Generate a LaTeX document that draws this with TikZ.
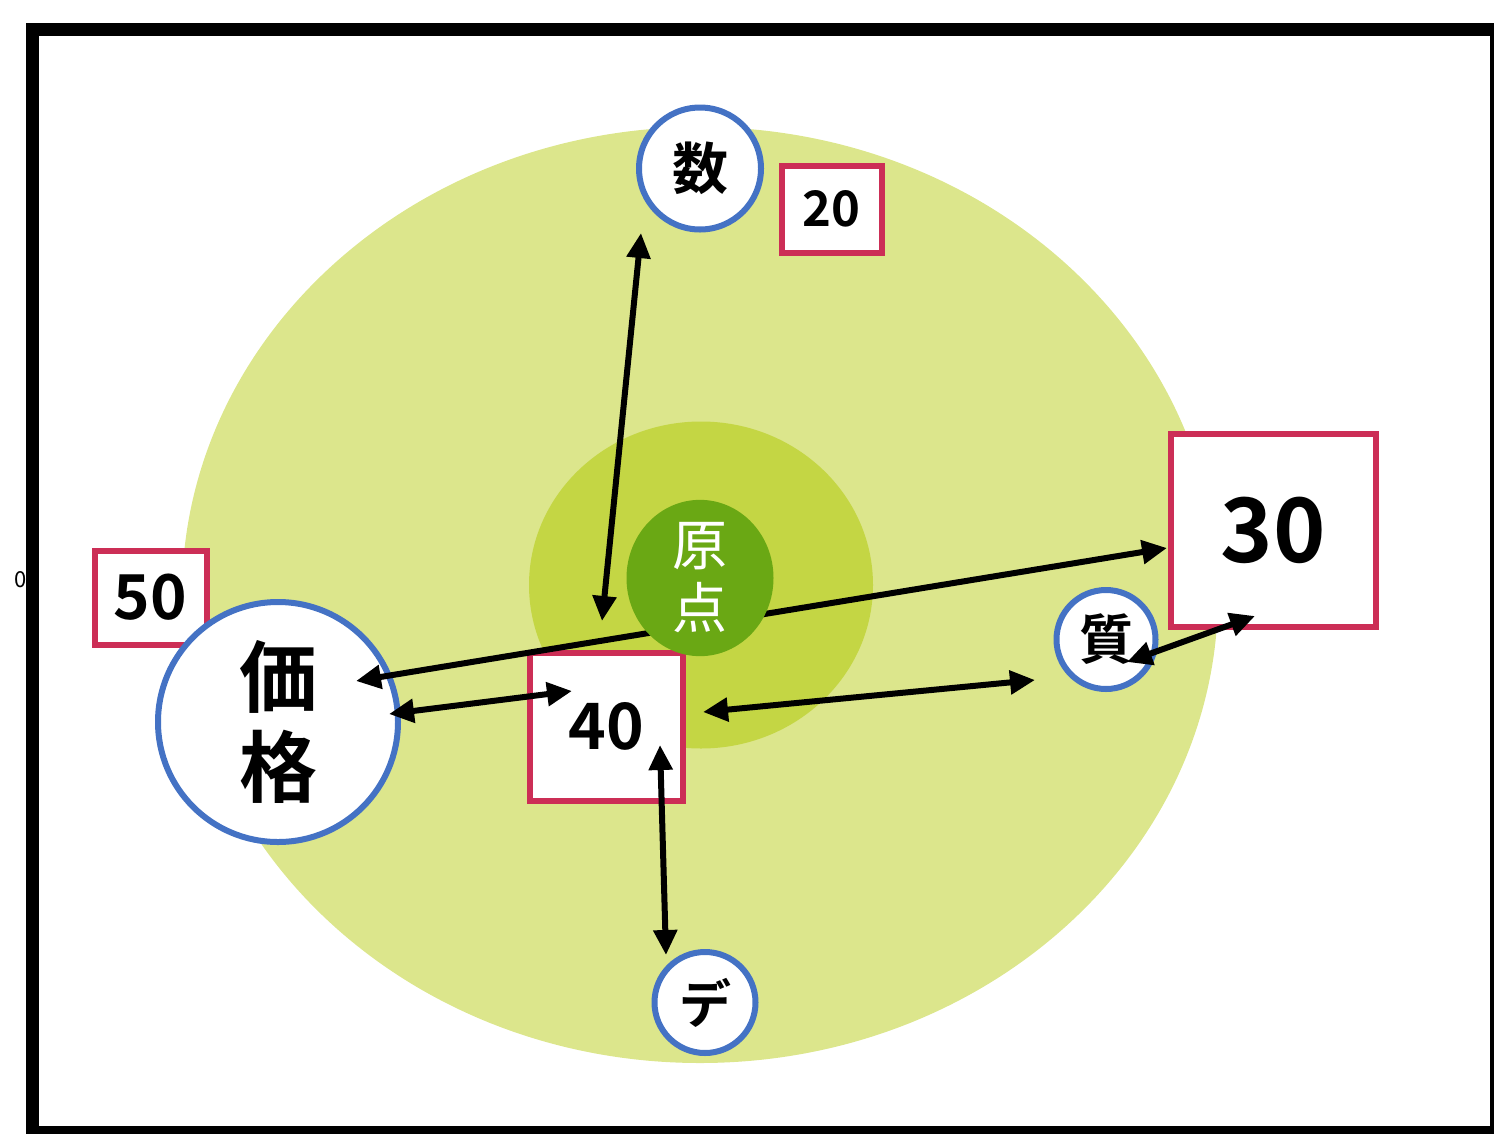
\documentclass[tikz,border=0pt]{standalone}
\usepackage{fontspec}
\setmainfont{Noto Sans CJK JP}[BoldFont={Noto Sans CJK JP Bold}]
\usepackage{tikz}
\usetikzlibrary{shapes.geometric, arrows.meta, positioning}
\definecolor{zonepale}{RGB}{220,230,140}
\definecolor{zonemid}{RGB}{196,214,68}
\definecolor{coregreen}{RGB}{106,168,20}
\definecolor{topicblue}{RGB}{68,114,196}
\definecolor{scorered}{RGB}{204,46,86}
\tikzstyle{zone} = [ellipse, inner sep=0pt]
\tikzstyle{topic} = [circle, draw=topicblue, line width=6pt, fill=white, inner sep=0pt, align=center]
\tikzstyle{score} = [rectangle, draw=scorered, line width=6pt, fill=white, inner sep=0pt]
\tikzstyle{arrow} = [line width=6pt, {Triangle[length=25pt,width=23pt]}-{Triangle[length=25pt,width=23pt]}]

\begin{document}
\begin{tikzpicture}[x=1pt, y=-1pt]
\useasboundingbox (0,0) rectangle (1494,1133);

% Zones
\node (outer) [zone, fill=zonepale, minimum width=1036pt, minimum height=936pt] at (700,595) {};
\node (middle) [zone, fill=zonemid, minimum width=344pt, minimum height=327pt] at (701,585) {};

% Scores
\node (twenty) [score, minimum width=100pt, minimum height=87pt, font={\fontsize{49}{52}\selectfont\bfseries}] at (831.5,209) {20};
\node (fifty) [score, minimum width=112pt, minimum height=94pt, font={\fontsize{62}{66}\selectfont\bfseries}] at (150.5,597.5) {50};
\node (thirty) [score, minimum width=205pt, minimum height=193pt, font={\fontsize{89}{94}\selectfont\bfseries}] at (1273,530) {30};
\node (forty) [score, minimum width=153pt, minimum height=148pt, font={\fontsize{64}{68}\selectfont\bfseries}] at (606,726.5) {40};

% Topics
\node (suu) [topic, minimum size=122pt, font={\fontsize{56}{60}\selectfont\bfseries}] at (700,168.5) {数};
\node (kakaku) [topic, minimum size=240pt, font={\fontsize{78}{90}\selectfont\bfseries}] at (278,722) {価\\格};
\node (shitsu) [topic, minimum size=99pt, font={\fontsize{54}{58}\selectfont\bfseries}] at (1106,639.5) {質};
\node (de) [topic, minimum size=101pt, font={\fontsize{52}{56}\selectfont\bfseries}] at (705,1002.5) {デ};

% Frame
\node (zero) [font={\fontsize{22}{24}\selectfont}] at (21,580) {0};
\draw [line width=13pt] (32.5,29) rectangle (1496.5,1132.5);

% Arrow ends
\coordinate (suu-end) at (641,233);
\coordinate (forty-top) at (602,621);
\coordinate (kakaku-top) at (356,681);
\coordinate (thirty-left) at (1167,548);
\coordinate (kakaku-mid) at (389,714);
\coordinate (forty-left) at (572,691);
\coordinate (forty-right) at (703,712);
\coordinate (shitsu-left) at (1035,680);
\coordinate (shitsu-in) at (1127,662);
\coordinate (thirty-low) at (1255,616);
\coordinate (forty-low) at (660,745);
\coordinate (de-end) at (666,955);

% Arrows
\draw [arrow] (suu-end) -- (forty-top);
\draw [arrow] (kakaku-top) -- (thirty-left);
\draw [arrow] (kakaku-mid) -- (forty-left);
\draw [arrow] (forty-right) -- (shitsu-left);
\draw [arrow] (shitsu-in) -- (thirty-low);
\draw [arrow] (forty-low) -- (de-end);

% Core
\node (core) [zone, fill=coregreen, minimum width=147pt, minimum height=140pt, text=white, align=center, font={\fontsize{55}{63}\selectfont}] at (700,578) {原\\点};

\end{tikzpicture}
\end{document}
